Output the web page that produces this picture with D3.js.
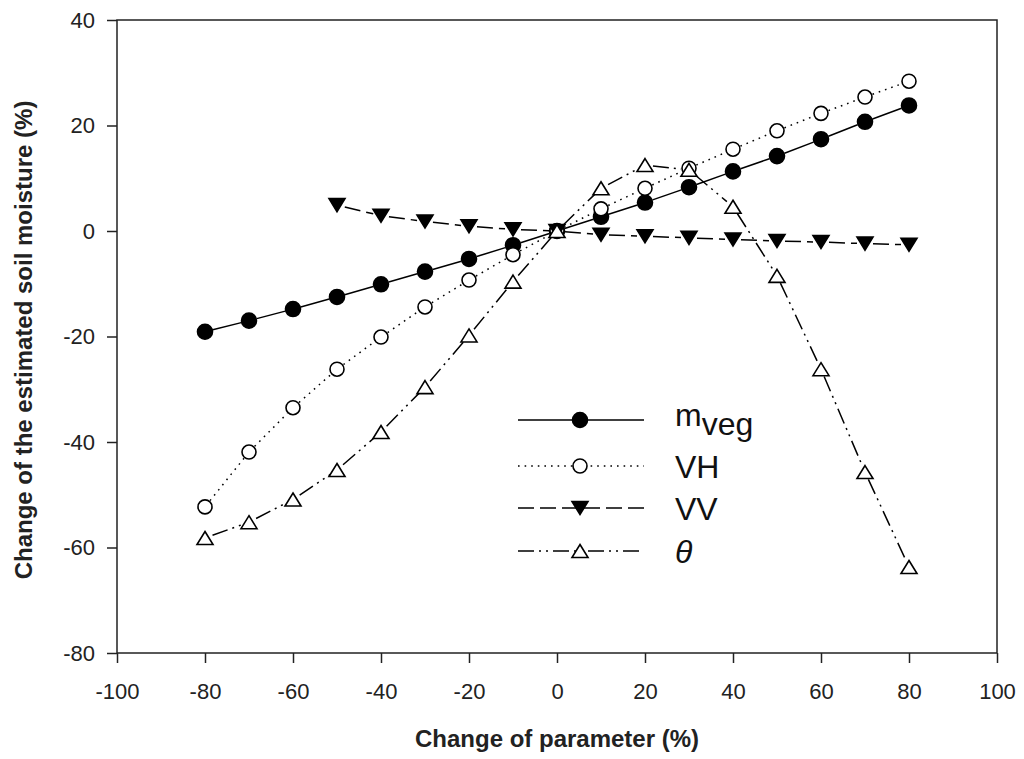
<!DOCTYPE html>
<html>
<head>
<meta charset="utf-8">
<script src="https://cdn.jsdelivr.net/npm/d3@7"></script>
<style>
  body { margin: 0; background: #fff; }
  svg { display: block; }
</style>
</head>
<body>
<div id="chart"></div>
<script>
// change of each parameter (%)
const paramChange = [-80, -70, -60, -50, -40, -30, -20, -10, 0, 10, 20, 30, 40, 50, 60, 70, 80]

// change of the estimated soil moisture (%)
const mveg  = [-19.1, -17.0, -14.8, -12.5, -10.1, -7.7, -5.3, -2.7, 0, 2.7, 5.4, 8.3, 11.3, 14.2, 17.4, 20.7, 23.8]
const vh    = [-52.3, -41.9, -33.5, -26.2, -20.1, -14.4, -9.3, -4.5, 0, 4.2, 8.1, 11.9, 15.5, 19.0, 22.3, 25.4, 28.4]
const vv    = [null, null, null, 4.9, 2.9, 1.8, 0.9, 0.3, 0, -0.7, -1.0, -1.3, -1.6, -1.9, -2.1, -2.4, -2.6]
const theta = [-58.2, -55.2, -50.9, -45.3, -38.1, -29.6, -19.8, -9.6, 0, 8.1, 12.5, 11.6, 4.6, -8.5, -26.2, -45.7, -63.7]

const xTicks = [-100, -80, -60, -40, -20, 0, 20, 40, 60, 80, 100]
const yTicks = [-80, -60, -40, -20, 0, 20, 40]

const width = 1024
const height = 759
const font = "'Liberation Sans', Arial, Helvetica, sans-serif"

const x = d3.scaleLinear().domain([-100, 100]).range([117, 997])
const y = d3.scaleLinear().domain([-80, 40]).range([653, 20])

const tri = (w, h, down) => down
  ? `M${-w / 2},${-h / 2}L${w / 2},${-h / 2}L0,${h / 2}Z`
  : `M0,${-h / 2}L${w / 2},${h / 2}L${-w / 2},${h / 2}Z`

const series = [
  { name: "mveg", values: mveg, dash: null, marker: "circle", fill: "#000" },
  { name: "VH", values: vh, dash: "1.6 5", marker: "circle", fill: "#fff" },
  { name: "VV", values: vv, dash: "16 6", marker: "down", fill: "#000" },
  { name: "theta", values: theta, dash: "16 5 2 5 2 5", marker: "up", fill: "#fff" }
]

const svg = d3.select("#chart").append("svg")
  .attr("width", width)
  .attr("height", height)
  .attr("font-family", font)

// frame
svg.append("rect")
  .attr("x", x(-100)).attr("y", y(40))
  .attr("width", x(100) - x(-100)).attr("height", y(-80) - y(40))
  .attr("fill", "none").attr("stroke", "#222").attr("stroke-width", 1.5)

const xAxis = svg.append("g")
  .attr("transform", `translate(0,${y(-80)})`)
  .call(d3.axisBottom(x).tickValues(xTicks).tickSize(10).tickPadding(20).tickFormat(d => String(d)))
const yAxis = svg.append("g")
  .attr("transform", `translate(${x(-100)},0)`)
  .call(d3.axisLeft(y).tickValues(yTicks).tickSize(10).tickPadding(12).tickFormat(d => String(d)))

for (const ax of [xAxis, yAxis]) {
  ax.select(".domain").remove()
  ax.selectAll("line").attr("stroke", "#222").attr("stroke-width", 1.5)
  ax.selectAll("text").attr("font-family", font).attr("font-size", 22).attr("fill", "#222")
}

svg.append("text")
  .attr("x", 557).attr("y", 747)
  .attr("text-anchor", "middle")
  .attr("font-size", 24).attr("font-weight", "bold").attr("fill", "#222")
  .text("Change of parameter (%)")

svg.append("text")
  .attr("transform", "translate(32,340) rotate(-90)")
  .attr("text-anchor", "middle")
  .attr("font-size", 24).attr("font-weight", "bold").attr("fill", "#222")
  .text("Change of the estimated soil moisture (%)")

// lines, cut short around each marker
const gap = 8
const plot = svg.append("g")
series.forEach(s => {
  const pts = paramChange.map((p, i) => [p, s.values[i]]).filter(d => d[1] != null)
  const segs = d3.pairs(pts).map(([a, b]) => {
    const x0 = x(a[0]), y0 = y(a[1]), x1 = x(b[0]), y1 = y(b[1])
    const len = Math.hypot(x1 - x0, y1 - y0)
    const ux = (x1 - x0) / len, uy = (y1 - y0) / len
    return [[x0 + ux * gap, y0 + uy * gap], [x1 - ux * gap, y1 - uy * gap]]
  })
  plot.append("g")
    .selectAll("path")
    .data(segs)
    .join("path")
    .attr("d", d => d3.line()(d))
    .attr("fill", "none")
    .attr("stroke", "#000")
    .attr("stroke-width", 1.5)
    .attr("stroke-dasharray", s.dash)
})

const drawMarker = (g, s) => {
  if (s.marker === "circle") {
    g.append("circle").attr("r", s.fill === "#000" ? 7.5 : 7)
      .attr("fill", s.fill).attr("stroke", "#000").attr("stroke-width", 1.6)
  } else {
    g.append("path").attr("d", tri(16, 13, s.marker === "down"))
      .attr("fill", s.fill).attr("stroke", "#000").attr("stroke-width", 1.6)
      .attr("stroke-linejoin", "miter")
  }
}

series.forEach(s => {
  const pts = paramChange.map((p, i) => [p, s.values[i]]).filter(d => d[1] != null)
  plot.append("g")
    .selectAll("g")
    .data(pts)
    .join("g")
    .attr("transform", d => `translate(${x(d[0])},${y(d[1])})`)
    .each(function () { drawMarker(d3.select(this), s) })
})

// legend
const legendY = [420, 466, 508, 551]
const legend = svg.append("g")
series.forEach((s, i) => {
  const row = legend.append("g").attr("transform", `translate(0,${legendY[i]})`)
  row.append("line")
    .attr("x1", 518).attr("x2", 644)
    .attr("stroke", "#000").attr("stroke-width", 1.5)
    .attr("stroke-dasharray", s.dash)
  drawMarker(row.append("g").attr("transform", "translate(580,0)"), s)
  const t = row.append("text")
    .attr("x", 675).attr("y", 12)
    .attr("font-size", 32).attr("fill", "#111")
  if (s.name === "mveg") {
    t.attr("y", 6)
    t.append("tspan").text("m")
    t.append("tspan").attr("dy", 9).text("veg")
  } else if (s.name === "theta") {
    t.attr("font-style", "italic").text("θ")
  } else {
    t.text(s.name)
  }
})
</script>
</body>
</html>
